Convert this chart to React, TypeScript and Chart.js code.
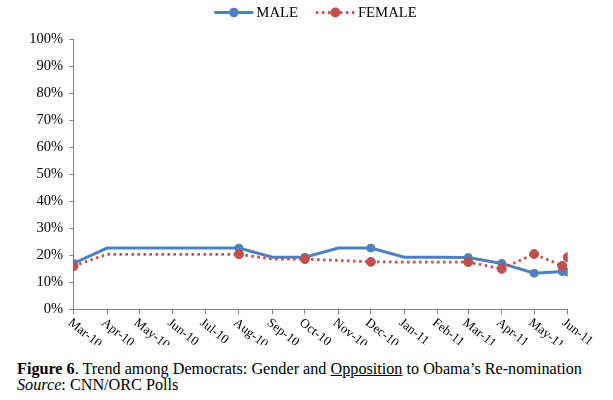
import React, { useEffect, useRef } from "react";
import { Chart, registerables } from "chart.js";

Chart.register(...registerables);

// ---- data ----
const monthLabels = [
  "Mar-10", "Apr-10", "May-10", "Jun-10", "Jul-10", "Aug-10", "Sep-10", "Oct-10",
  "Nov-10", "Dec-10", "Jan-11", "Feb-11", "Mar-11", "Apr-11", "May-11", "Jun-11",
];
// days since 1 Mar 2010 for each month start (date axis)
const monthDays = [0, 31, 61, 92, 122, 153, 184, 214, 245, 275, 306, 337, 365, 396, 426, 457];
// days since 1 Mar 2010 of each data point
const pollDays = [0, 31, 61, 92, 122, 153, 184, 214, 245, 275, 306, 337, 365, 396, 426, 452, 457];
const maleValues = [17, 22.7, 22.7, 22.7, 22.7, 22.7, 19.3, 19.3, 22.7, 22.7, 19.3, 19.3, 19.2, 17, 13.4, 14, 13.8];
const femaleValues = [16, 20.4, 20.4, 20.4, 20.4, 20.4, 18.6, 18.6, 18.1, 17.6, 17.5, 17.5, 17.5, 15, 20.5, 16.1, 19.3];
const markerShown = [true, false, false, false, false, true, false, true, false, true, false, false, true, true, true, true, true];
const seriesNames = ["MALE", "FEMALE"];
const yMin = 0;
const yMax = 100;
const yStep = 10;

const FONT = '"Liberation Serif", "Times New Roman", serif';
const BLUE = "#4F81BD";
const RED = "#C0504D";
const AXIS = "#868686";

const labelPlugin = {
  id: "excelLabels",
  afterDraw(chart: any) {
    const ctx = chart.ctx;
    const xs = chart.scales.x;
    ctx.save();
    // rotated month labels
    ctx.font = `13px ${FONT}`;
    ctx.fillStyle = "#000";
    ctx.textAlign = "left";
    ctx.textBaseline = "top";
    monthDays.forEach((d, i) => {
      const px = xs.getPixelForValue(d);
      ctx.save();
      ctx.translate(px, xs.top + 7);
      ctx.rotate((38 * Math.PI) / 180);
      ctx.fillText(monthLabels[i], 0, 0);
      ctx.restore();
    });
    // legend
    ctx.font = `14.7px ${FONT}`;
    ctx.textBaseline = "middle";
    const sampleW = 39;
    const gapText = 3;
    const gapItem = 18;
    const metas = chart.data.datasets;
    const widths = metas.map((ds: any) => ctx.measureText(ds.label).width);
    const total = widths.reduce((a: number, b: number) => a + b, 0) + metas.length * (sampleW + gapText) + gapItem * (metas.length - 1);
    let x = 315.5 - total / 2;
    const y = 12.5;
    metas.forEach((ds: any, i: number) => {
      ctx.save();
      ctx.strokeStyle = ds.borderColor;
      ctx.lineWidth = ds.borderWidth;
      ctx.setLineDash(ds.borderDash || []);
      ctx.beginPath();
      ctx.moveTo(x, y);
      ctx.lineTo(x + sampleW, y);
      ctx.stroke();
      ctx.setLineDash([]);
      ctx.fillStyle = ds.pointBackgroundColor;
      ctx.beginPath();
      ctx.arc(x + sampleW / 2, y, ds.legendRadius, 0, Math.PI * 2);
      ctx.fill();
      ctx.restore();
      ctx.fillStyle = "#000";
      ctx.fillText(ds.label, x + sampleW + gapText, y + 0.5);
      x += sampleW + gapText + widths[i] + gapItem;
    });
    ctx.restore();
  },
};

export default function App() {
  const ref = useRef<HTMLCanvasElement | null>(null);

  useEffect(() => {
    const canvas = ref.current;
    if (!canvas) return;
    const maleData = pollDays.map((d, i) => ({ x: d, y: maleValues[i] }));
    const femaleData = pollDays.map((d, i) => ({ x: d, y: femaleValues[i] }));
    const chart = new Chart(canvas, {
      type: "line",
      data: {
        datasets: [
          {
            label: seriesNames[0],
            data: maleData,
            borderColor: BLUE,
            backgroundColor: BLUE,
            borderWidth: 3,
            pointBackgroundColor: BLUE,
            pointBorderColor: BLUE,
            pointBorderWidth: 1,
            pointRadius: markerShown.map((m) => (m ? 4 : 0)),
            pointHoverRadius: 0,
            tension: 0,
            order: 2,
            legendRadius: 4.8,
          } as any,
          {
            label: seriesNames[1],
            data: femaleData,
            borderColor: RED,
            backgroundColor: RED,
            borderWidth: 2.75,
            borderDash: [2.5, 3.5],
            pointBackgroundColor: RED,
            pointBorderColor: RED,
            pointBorderWidth: 1,
            pointRadius: markerShown.map((m) => (m ? 4.5 : 0)),
            pointHoverRadius: 0,
            tension: 0,
            order: 1,
            legendRadius: 5,
          } as any,
        ],
      },
      options: {
        animation: false,
        responsive: false,
        maintainAspectRatio: false,
        layout: { padding: { top: 39.5, right: 45.3, left: 0, bottom: 0 } },
        plugins: {
          legend: { display: false },
          tooltip: { enabled: false },
          title: { display: false },
        },
        scales: {
          x: {
            type: "linear",
            min: monthDays[0],
            max: monthDays[monthDays.length - 1],
            afterBuildTicks: (scale: any) => {
              scale.ticks = monthDays.map((v) => ({ value: v }));
            },
            afterFit: (scale: any) => {
              scale.height = 35.7;
            },
            ticks: { display: false },
            grid: {
              drawOnChartArea: false,
              drawTicks: true,
              tickLength: 5,
              color: AXIS,
              lineWidth: 1,
            },
            border: { display: true, color: AXIS, width: 1 },
          },
          y: {
            type: "linear",
            min: yMin,
            max: yMax,
            afterFit: (scale: any) => {
              scale.width = 73.5;
            },
            ticks: {
              stepSize: yStep,
              color: "#000",
              padding: 6.5,
              font: { family: FONT, size: 14.5 },
              callback: (v: any) => `${v}%`,
            },
            grid: {
              drawOnChartArea: false,
              drawTicks: true,
              tickLength: 4,
              color: AXIS,
              lineWidth: 1,
            },
            border: { display: true, color: AXIS, width: 1 },
          },
        },
      } as any,
      plugins: [labelPlugin],
    });
    return () => chart.destroy();
  }, []);

  return (
    <div style={{ position: "absolute", left: 0, top: 0, width: 613, height: 400, background: "#fff" }}>
      <canvas ref={ref} width={613} height={345} style={{ display: "block", width: 613, height: 345 }} />
      <div
        style={{
          position: "absolute",
          left: 17,
          top: 361,
          font: `16.2px ${FONT}`,
          lineHeight: "16px",
          color: "#000",
          whiteSpace: "nowrap",
        }}
      >
        <div>
          <b>Figure 6</b>. Trend among Democrats: Gender and <u>Opposition</u> to Obama’s Re-nomination
        </div>
        <div>
          <i>Source</i>: CNN/ORC Polls
        </div>
      </div>
    </div>
  );
}
